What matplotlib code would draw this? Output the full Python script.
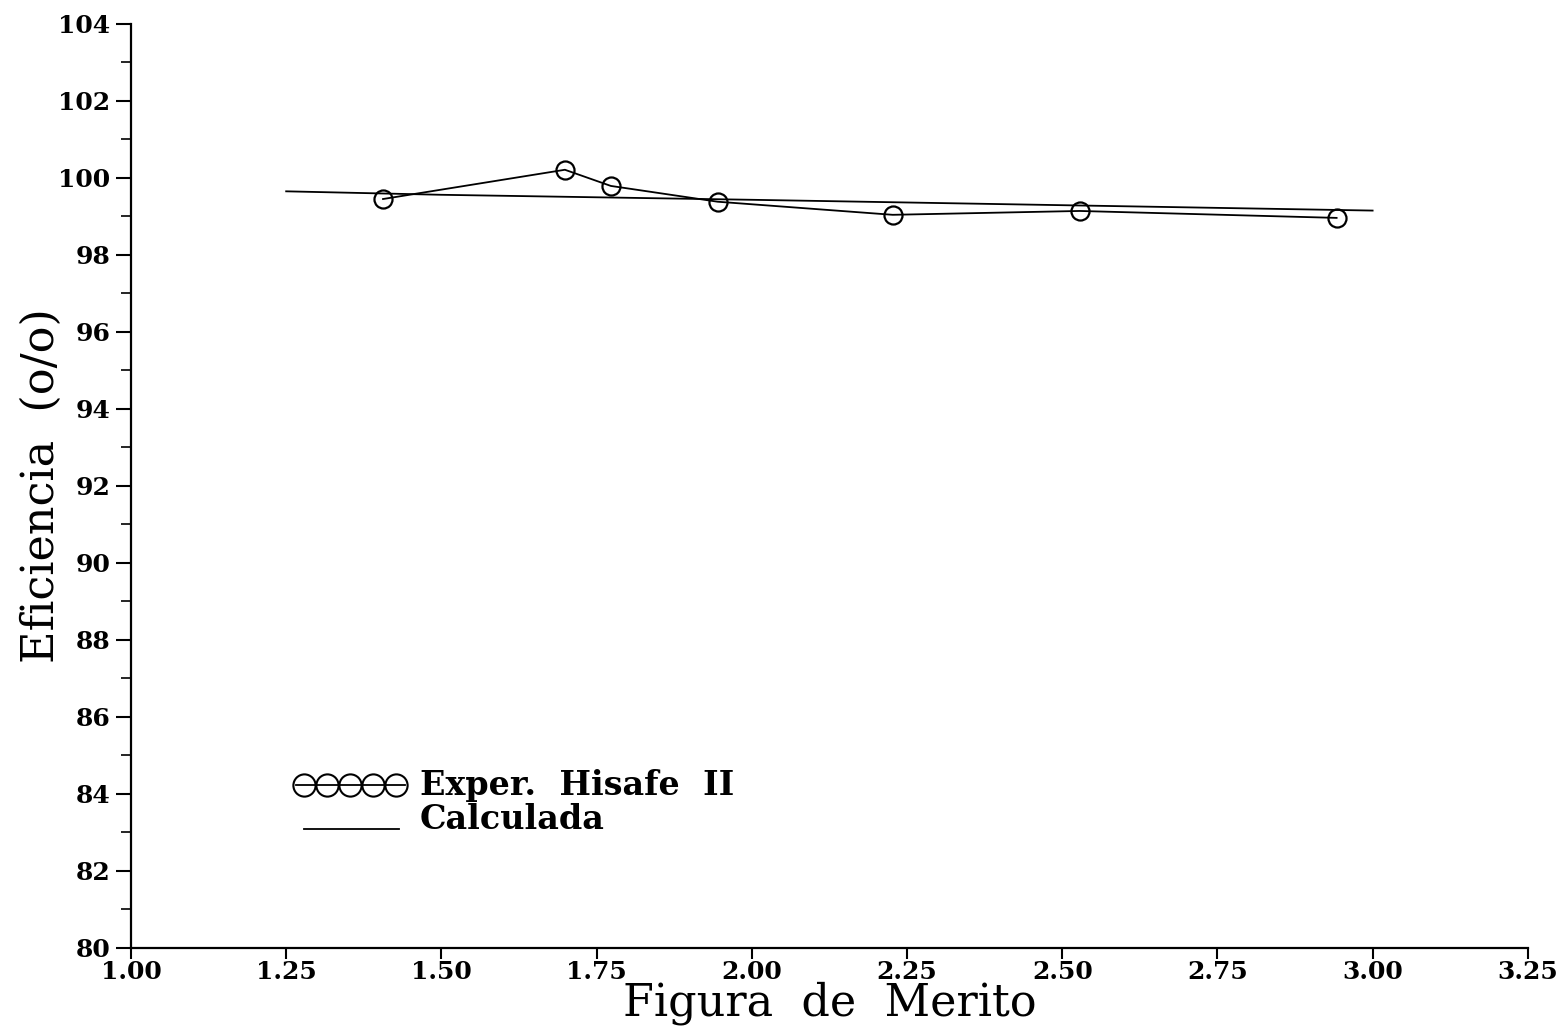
import matplotlib
matplotlib.use("Agg")
import matplotlib.pyplot as plt
import numpy as np

# Data
exp_x = [1.406, 1.699, 1.773, 1.945, 2.227, 2.528, 2.942]
exp_y = [99.45, 100.21, 99.79, 99.38, 99.04, 99.14, 98.96]
calc_x = [1.25, 1.50, 2.00, 2.50, 3.00]
calc_y = [99.65, 99.56, 99.43, 99.29, 99.15]

xticks = [1.00, 1.25, 1.50, 1.75, 2.00, 2.25, 2.50, 2.75, 3.00, 3.25]
yticks = list(range(80, 105, 2))

fig = plt.figure(figsize=(15.59, 10.36), dpi=100)
ax = fig.add_axes([0.084, 0.085, 0.896, 0.892])

ax.plot(calc_x, calc_y, color='black', lw=1.3)
ax.plot(exp_x, exp_y, color='black', lw=1.3, marker='o', markersize=13,
        markerfacecolor='none', markeredgecolor='black', markeredgewidth=1.6)

ax.set_xlim(1.0, 3.25)
ax.set_ylim(80, 104)
ax.set_xticks(xticks)
ax.set_xticklabels([f"{v:.2f}" for v in xticks])
ax.set_yticks(yticks)
ax.set_yticklabels([str(v) for v in yticks])
ax.set_yticks(np.arange(81, 104, 2), minor=True)

for s in ['top', 'right']:
    ax.spines[s].set_visible(False)
for s in ['left', 'bottom']:
    ax.spines[s].set_linewidth(1.6)

ax.tick_params(axis='x', which='major', direction='out', length=8, width=1.5, pad=1)
ax.tick_params(axis='y', which='major', direction='out', length=11, width=1.5, pad=4)
ax.tick_params(axis='y', which='minor', direction='out', length=7, width=1.2)

for lab in ax.get_xticklabels() + ax.get_yticklabels():
    lab.set_fontfamily('DejaVu Serif')
    lab.set_fontweight('bold')
    lab.set_fontsize(18)

ax.set_xlabel("Figura  de  Merito", fontfamily='DejaVu Serif', fontsize=32, labelpad=-2)
ax.set_ylabel("Eficiencia  (o/o)", fontfamily='DejaVu Serif', fontsize=32)
ax.yaxis.set_label_coords(-0.049, 0.5)

# Legend (manual)
sym_x = np.linspace(0.124, 0.190, 5)
ax.plot(sym_x, [0.176] * 5, transform=ax.transAxes, linestyle='none', marker='o',
        markersize=16, markerfacecolor='none', markeredgecolor='black',
        markeredgewidth=1.5, clip_on=False)
ax.plot([0.118, 0.196], [0.176, 0.176], transform=ax.transAxes, color='black', lw=1.3)
ax.text(0.207, 0.176, "Exper.  Hisafe  II", transform=ax.transAxes,
        fontsize=24, family='DejaVu Serif', weight='bold', va='center', ha='left')
ax.plot([0.124, 0.192], [0.129, 0.129], transform=ax.transAxes, color='black', lw=1.3)
ax.text(0.207, 0.139, "Calculada", transform=ax.transAxes,
        fontsize=24, family='DejaVu Serif', weight='bold', va='center', ha='left')

fig.savefig("out.png", dpi=100)
